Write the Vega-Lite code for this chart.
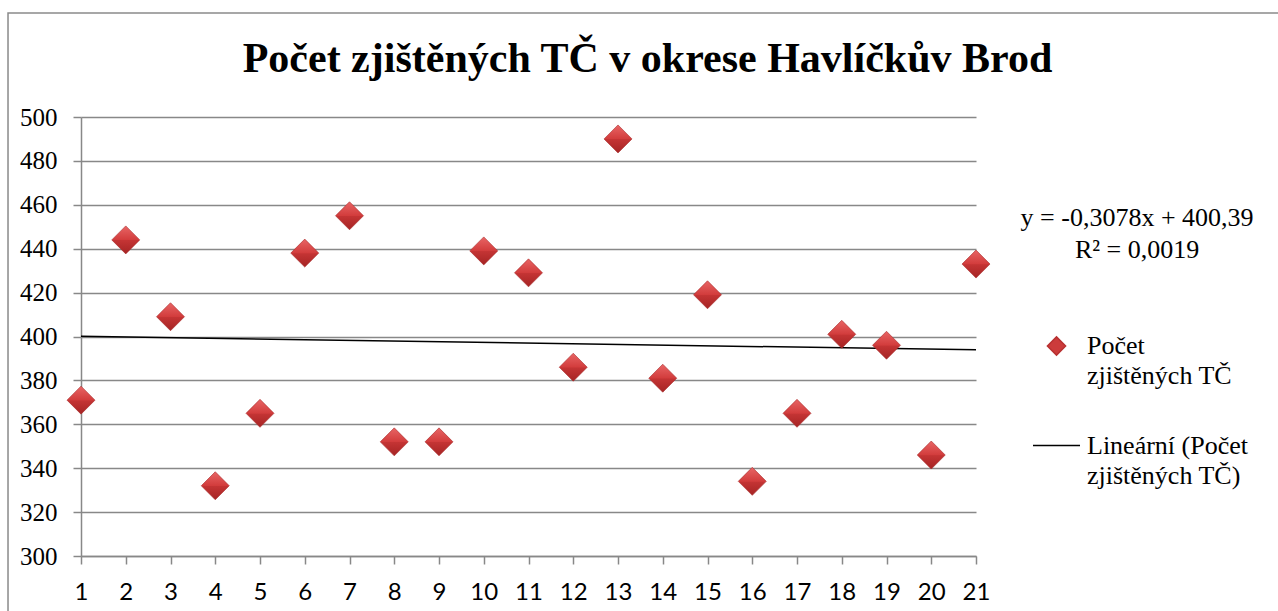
{
  "$schema": "https://vega.github.io/schema/vega-lite/v6.json",
  "autosize": {"type": "none"},
  "width": 895,
  "height": 439,
  "padding": {"left": 81, "top": 117, "right": 302, "bottom": 55},
  "background": "white",
  "title": {
    "text": "Počet zjištěných TČ v okrese Havlíčkův Brod",
    "font": "Liberation Serif",
    "fontSize": 42,
    "fontWeight": "bold",
    "color": "black",
    "anchor": "middle",
    "frame": "group",
    "dx": 119,
    "dy": 93,
    "offset": 24
  },
  "datasets": {
    "counts": [
      {"x": 1, "value": 371}, {"x": 2, "value": 444}, {"x": 3, "value": 409},
      {"x": 4, "value": 332}, {"x": 5, "value": 365}, {"x": 6, "value": 438},
      {"x": 7, "value": 455}, {"x": 8, "value": 352}, {"x": 9, "value": 352},
      {"x": 10, "value": 439}, {"x": 11, "value": 429}, {"x": 12, "value": 386},
      {"x": 13, "value": 490}, {"x": 14, "value": 381}, {"x": 15, "value": 419},
      {"x": 16, "value": 334}, {"x": 17, "value": 365}, {"x": 18, "value": 401},
      {"x": 19, "value": 396}, {"x": 20, "value": 346}, {"x": 21, "value": 433}
    ],
    "equation": [
      {"label": "y = -0,3078x + 400,39\nR² = 0,0019"}
    ],
    "frame": [
      {"name": "chart area"}
    ]
  },
  "config": {
    "view": {"stroke": null},
    "style": {"guide-label": {"lineHeight": 30}},
    "axis": {
      "domainColor": "#888888",
      "domainWidth": 1.5,
      "tickColor": "#888888",
      "tickWidth": 1.5,
      "tickSize": 8,
      "gridColor": "#888888",
      "gridWidth": 1.5,
      "labelColor": "black",
      "title": null
    }
  },
  "layer": [
    {
      "data": {"name": "frame"},
      "mark": {"type": "rect", "fill": null, "fillOpacity": 0, "stroke": "#8a8a8a", "strokeWidth": 1.5},
      "encoding": {
        "x": {"datum": -0.631, "type": "quantitative"},
        "x2": {"datum": 28.24},
        "y": {"datum": 547.4, "type": "quantitative"},
        "y2": {"datum": 266.3}
      }
    },
    {
      "data": {"name": "counts"},
      "transform": [{"regression": "value", "on": "x", "extent": [1, 21]}],
      "mark": {"type": "line", "color": "black", "strokeWidth": 1.5},
      "encoding": {
        "x": {
          "field": "x",
          "type": "quantitative",
          "scale": {"domain": [1, 21], "nice": false, "zero": false},
          "axis": {
            "values": [1,2,3,4,5,6,7,8,9,10,11,12,13,14,15,16,17,18,19,20,21],
            "grid": false,
            "labelFont": "Lato",
            "labelFontSize": 24,
            "labelPadding": 16,
            "labelFlush": false,
            "labelOverlap": false,
            "title": null
          }
        },
        "y": {
          "field": "value",
          "type": "quantitative",
          "scale": {"domain": [300, 500], "nice": false, "zero": false},
          "axis": {
            "values": [300,320,340,360,380,400,420,440,460,480,500],
            "grid": true,
            "labelFont": "Liberation Serif",
            "labelFontSize": 25,
            "labelPadding": 16,
            "labelFlush": false,
            "labelOverlap": false,
            "title": null
          }
        }
      }
    },
    {
      "data": {"name": "counts"},
      "mark": {"type": "point", "filled": true, "opacity": 1},
      "encoding": {
        "x": {"field": "x", "type": "quantitative"},
        "y": {"field": "value", "type": "quantitative"},
        "shape": {
          "datum": "Počet zjištěných TČ", "type": "nominal",
          "scale": {"domain": ["Počet zjištěných TČ", "Lineární (Počet zjištěných TČ)"], "range": ["diamond", "stroke"]},
          "legend": {"orient": "none", "legendX": 951, "legendY": 216, "title": null, "padding": 0,
            "labelFont": "Liberation Serif", "labelFontSize": 26, "labelColor": "black", "labelLimit": 400,
            "labelOffset": 6, "labelBaseline": "middle", "symbolStrokeWidth": 1.5, "rowPadding": 32,
            "labelExpr": "datum.label == 'Počet zjištěných TČ' ? ['Počet', 'zjištěných TČ'] : ['Lineární (Počet', 'zjištěných TČ)']"}
        },
        "size": {
          "datum": "Počet zjištěných TČ", "type": "nominal",
          "scale": {"type": "ordinal", "domain": ["Počet zjištěných TČ", "Lineární (Počet zjištěných TČ)"], "range": [330, 2209]},
          "legend": {"orient": "none", "legendX": 951, "legendY": 216, "title": null, "padding": 0,
            "labelFont": "Liberation Serif", "labelFontSize": 26, "labelColor": "black", "labelLimit": 400,
            "labelOffset": 6, "labelBaseline": "middle", "symbolStrokeWidth": 1.5, "rowPadding": 32,
            "labelExpr": "datum.label == 'Počet zjištěných TČ' ? ['Počet', 'zjištěných TČ'] : ['Lineární (Počet', 'zjištěných TČ)']"}
        },
        "fill": {
          "datum": "Počet zjištěných TČ", "type": "nominal",
          "scale": {"domain": ["Počet zjištěných TČ", "Lineární (Počet zjištěných TČ)"], "range": ["#cc3b3b", "black"]},
          "legend": {"orient": "none", "legendX": 951, "legendY": 216, "title": null, "padding": 0,
            "labelFont": "Liberation Serif", "labelFontSize": 26, "labelColor": "black", "labelLimit": 400,
            "labelOffset": 6, "labelBaseline": "middle", "symbolStrokeWidth": 1.5, "rowPadding": 32,
            "labelExpr": "datum.label == 'Počet zjištěných TČ' ? ['Počet', 'zjištěných TČ'] : ['Lineární (Počet', 'zjištěných TČ)']"}
        },
        "stroke": {
          "datum": "Počet zjištěných TČ", "type": "nominal",
          "scale": {"domain": ["Počet zjištěných TČ", "Lineární (Počet zjištěných TČ)"], "range": ["#b83030", "black"]},
          "legend": {"orient": "none", "legendX": 951, "legendY": 216, "title": null, "padding": 0,
            "labelFont": "Liberation Serif", "labelFontSize": 26, "labelColor": "black", "labelLimit": 400,
            "labelOffset": 6, "labelBaseline": "middle", "symbolStrokeWidth": 1.5, "rowPadding": 32,
            "labelExpr": "datum.label == 'Počet zjištěných TČ' ? ['Počet', 'zjištěných TČ'] : ['Lineární (Počet', 'zjištěných TČ)']"}
        }
      }
    },
    {
      "data": {"name": "counts"},
      "mark": {
        "type": "point",
        "shape": "diamond",
        "filled": true,
        "size": 784,
        "opacity": 1,
        "fill": {
          "gradient": "linear", "x1": 0, "y1": 0, "x2": 0, "y2": 1,
          "stops": [
            {"offset": 0, "color": "#e86565"},
            {"offset": 0.5, "color": "#d23c3c"},
            {"offset": 0.52, "color": "#c43434"},
            {"offset": 1, "color": "#a52424"}
          ]
        },
        "stroke": "#a82a2a",
        "strokeWidth": 0.6
      },
      "encoding": {
        "x": {"field": "x", "type": "quantitative"},
        "y": {"field": "value", "type": "quantitative"}
      }
    },
    {
      "data": {"name": "equation"},
      "mark": {
        "type": "text",
        "font": "Liberation Serif",
        "fontSize": 26,
        "fill": "black",
        "align": "center",
        "baseline": "middle",
        "lineBreak": "\n",
        "lineHeight": 32
      },
      "encoding": {
        "x": {"datum": 24.6},
        "y": {"datum": 454},
        "text": {"field": "label"}
      }
    }
  ]
}
